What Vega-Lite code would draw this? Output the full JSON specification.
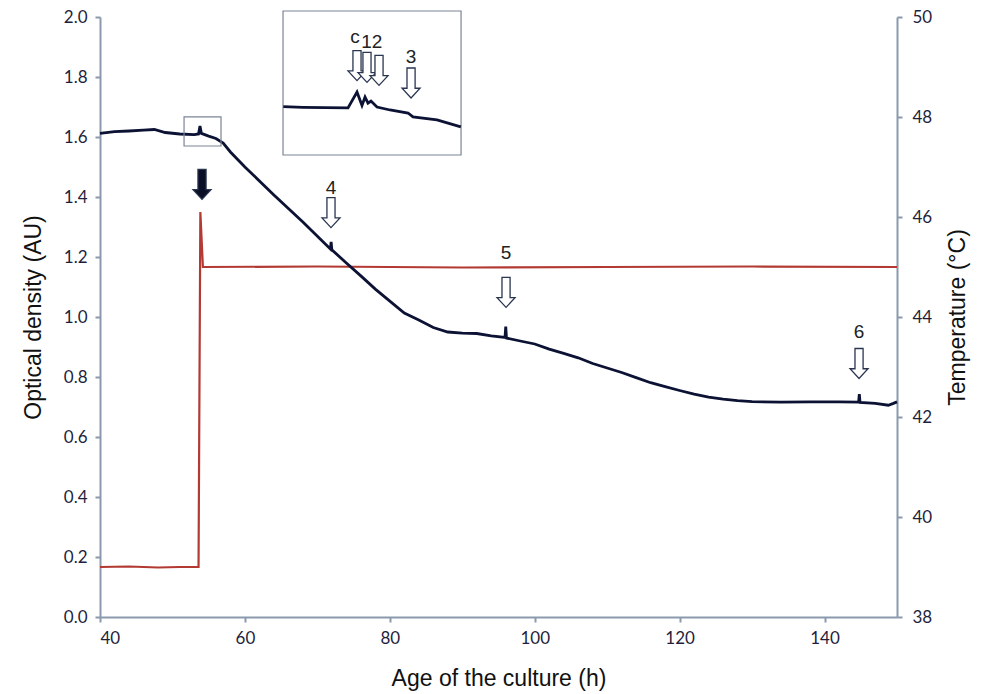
{
  "$schema": "https://vega.github.io/schema/vega-lite/v6.json",
  "width": 797,
  "height": 600,
  "autosize": "none",
  "padding": {"left": 100, "top": 17, "right": 91, "bottom": 77},
  "background": "white",
  "config": {
    "view": {"stroke": null},
    "axis": {
      "domainColor": "#8a99ab", "domainWidth": 2, "tickColor": "#8a99ab", "tickWidth": 2, "tickSize": 5,
      "grid": false, "labelFont": "Lato", "labelFontSize": 17, "labelColor": "#1f1f3d",
      "titleFont": "Liberation Sans", "titleFontSize": 23, "titleFontWeight": "normal", "titleColor": "#111111"
    }
  },
  "layer": [
    {
      "data": {"values": [
        {"h": 40, "t": 39.0}, {"h": 44, "t": 39.01}, {"h": 48, "t": 38.99}, {"h": 51, "t": 39.0},
        {"h": 53.6, "t": 39.0}, {"h": 53.85, "t": 46.1}, {"h": 54.2, "t": 45.0}, {"h": 70, "t": 45.01},
        {"h": 90, "t": 44.99}, {"h": 110, "t": 45.0}, {"h": 130, "t": 45.01}, {"h": 150, "t": 45.0}
      ]},
      "mark": {"type": "line", "color": "#b23a32", "strokeWidth": 2.2},
      "encoding": {
        "x": {"field": "h", "type": "quantitative", "scale": {"domain": [40, 150], "nice": false},
          "axis": {"values": [40, 60, 80, 100, 120, 140], "title": "Age of the culture (h)", "labelPadding": 8, "titlePadding": 21}},
        "y": {"field": "t", "type": "quantitative", "scale": {"domain": [38, 50], "nice": false, "zero": false},
          "axis": {"orient": "right", "values": [38, 40, 42, 44, 46, 48, 50], "title": "Temperature (°C)", "titleAngle": 270, "labelPadding": 10, "titlePadding": 38}}
      }
    },
    {
      "encoding": {
        "x": {"field": "h", "type": "quantitative", "scale": {"domain": [40, 150], "nice": false}},
        "y": {"field": "od", "type": "quantitative", "scale": {"domain": [0, 2], "nice": false},
          "axis": {"orient": "left", "values": [0, 0.2, 0.4, 0.6, 0.8, 1.0, 1.2, 1.4, 1.6, 1.8, 2.0], "format": ".1f", "title": "Optical density (AU)", "labelPadding": 8, "titlePadding": 18}}
      },
      "layer": [
        {
          "data": {"values": [
            {"h": 40, "od": 1.612}, {"h": 42, "od": 1.618}, {"h": 44, "od": 1.62}, {"h": 46, "od": 1.623},
            {"h": 47.5, "od": 1.625}, {"h": 49, "od": 1.615}, {"h": 51, "od": 1.61}, {"h": 53, "od": 1.608},
            {"h": 53.6, "od": 1.61}, {"h": 53.8, "od": 1.637}, {"h": 54.0, "od": 1.612}, {"h": 55, "od": 1.603},
            {"h": 56, "od": 1.595}, {"h": 57, "od": 1.58}, {"h": 58, "od": 1.55}, {"h": 60, "od": 1.5},
            {"h": 64, "od": 1.407}, {"h": 68, "od": 1.317}, {"h": 71.8, "od": 1.227}, {"h": 71.9, "od": 1.25},
            {"h": 72.0, "od": 1.224}, {"h": 74, "od": 1.18}, {"h": 76, "od": 1.137}, {"h": 78, "od": 1.093},
            {"h": 80, "od": 1.053}, {"h": 82, "od": 1.013}, {"h": 84, "od": 0.99}, {"h": 86, "od": 0.965},
            {"h": 88, "od": 0.95}, {"h": 90, "od": 0.946}, {"h": 92, "od": 0.945}, {"h": 94, "od": 0.937},
            {"h": 95.9, "od": 0.932}, {"h": 96.0, "od": 0.968}, {"h": 96.1, "od": 0.93}, {"h": 98, "od": 0.92},
            {"h": 100, "od": 0.91}, {"h": 102, "od": 0.893}, {"h": 104, "od": 0.879}, {"h": 106, "od": 0.864},
            {"h": 108, "od": 0.845}, {"h": 110, "od": 0.83}, {"h": 112, "od": 0.815}, {"h": 114, "od": 0.798},
            {"h": 116, "od": 0.781}, {"h": 118, "od": 0.768}, {"h": 120, "od": 0.755}, {"h": 122, "od": 0.743},
            {"h": 124, "od": 0.733}, {"h": 126, "od": 0.726}, {"h": 128, "od": 0.721}, {"h": 130, "od": 0.718},
            {"h": 134, "od": 0.716}, {"h": 138, "od": 0.717}, {"h": 142, "od": 0.717}, {"h": 144.7, "od": 0.716},
            {"h": 144.8, "od": 0.743}, {"h": 144.9, "od": 0.715}, {"h": 147, "od": 0.712}, {"h": 148.8, "od": 0.706},
            {"h": 149.5, "od": 0.712}, {"h": 150, "od": 0.717}
          ]},
          "mark": {"type": "line", "color": "#0b1233", "strokeWidth": 2.8}
        },
        {
          "data": {"values": [
            {"h": 65.26, "h2": 89.83, "od": 1.54, "od2": 2.02},
            {"h": 51.6, "h2": 56.7, "od": 1.57, "od2": 1.667}
          ]},
          "mark": {"type": "rect", "fill": null, "stroke": "#7b8496", "strokeWidth": 1.2, "clip": false},
          "encoding": {
            "x2": {"field": "h2"},
            "y2": {"field": "od2"}
          }
        },
        {
          "data": {"values": [
            {"h": 65.3, "od": 1.701}, {"h": 68, "od": 1.699}, {"h": 71, "od": 1.698}, {"h": 74.23, "od": 1.697},
            {"h": 75.47, "od": 1.75}, {"h": 76.16, "od": 1.705}, {"h": 76.58, "od": 1.733}, {"h": 76.99, "od": 1.713},
            {"h": 77.4, "od": 1.72}, {"h": 78.23, "od": 1.7}, {"h": 80.03, "od": 1.69}, {"h": 82.51, "od": 1.68},
            {"h": 83.2, "od": 1.667}, {"h": 86.51, "od": 1.657}, {"h": 89.8, "od": 1.634}
          ]},
          "mark": {"type": "line", "color": "#0b1233", "strokeWidth": 2.8}
        },
        {
          "data": {"values": [
            {"h": 71.88, "od": 1.348, "kind": "open"},
            {"h": 96.04, "od": 1.082, "kind": "open"},
            {"h": 144.76, "od": 0.845, "kind": "open"},
            {"h": 75.47, "od": 1.838, "kind": "open"},
            {"h": 76.85, "od": 1.832, "kind": "open"},
            {"h": 78.51, "od": 1.822, "kind": "open"},
            {"h": 82.93, "od": 1.78, "kind": "open"},
            {"h": 54.08, "od": 1.442, "kind": "solid"}
          ]},
          "mark": {"type": "point", "shape": "M -0.27 -1 L 0.27 -1 L 0.27 0.35 L 0.6 0.35 L 0 1 L -0.6 0.35 L -0.27 0.35 Z", "size": 900, "filled": true, "strokeWidth": 1.3, "stroke": "#2a3550", "opacity": 1},
          "encoding": {
            "fill": {"field": "kind", "type": "nominal", "scale": {"domain": ["open", "solid"], "range": ["#ffffff", "#0a0f25"]}, "legend": null}
          }
        },
        {
          "data": {"values": [
            {"h": 71.88, "od": 1.43, "label": "4"},
            {"h": 96.04, "od": 1.213, "label": "5"},
            {"h": 144.76, "od": 0.95, "label": "6"},
            {"h": 75.2, "od": 1.933, "label": "c"},
            {"h": 77.5, "od": 1.917, "label": "12"},
            {"h": 82.93, "od": 1.867, "label": "3"}
          ]},
          "mark": {"type": "text", "font": "Liberation Sans", "fontSize": 19, "color": "#222222", "align": "center", "baseline": "middle"},
          "encoding": {
            "text": {"field": "label"}
          }
        }
      ]
    }
  ],
  "resolve": {"scale": {"y": "independent"}, "axis": {"y": "independent"}}
}
